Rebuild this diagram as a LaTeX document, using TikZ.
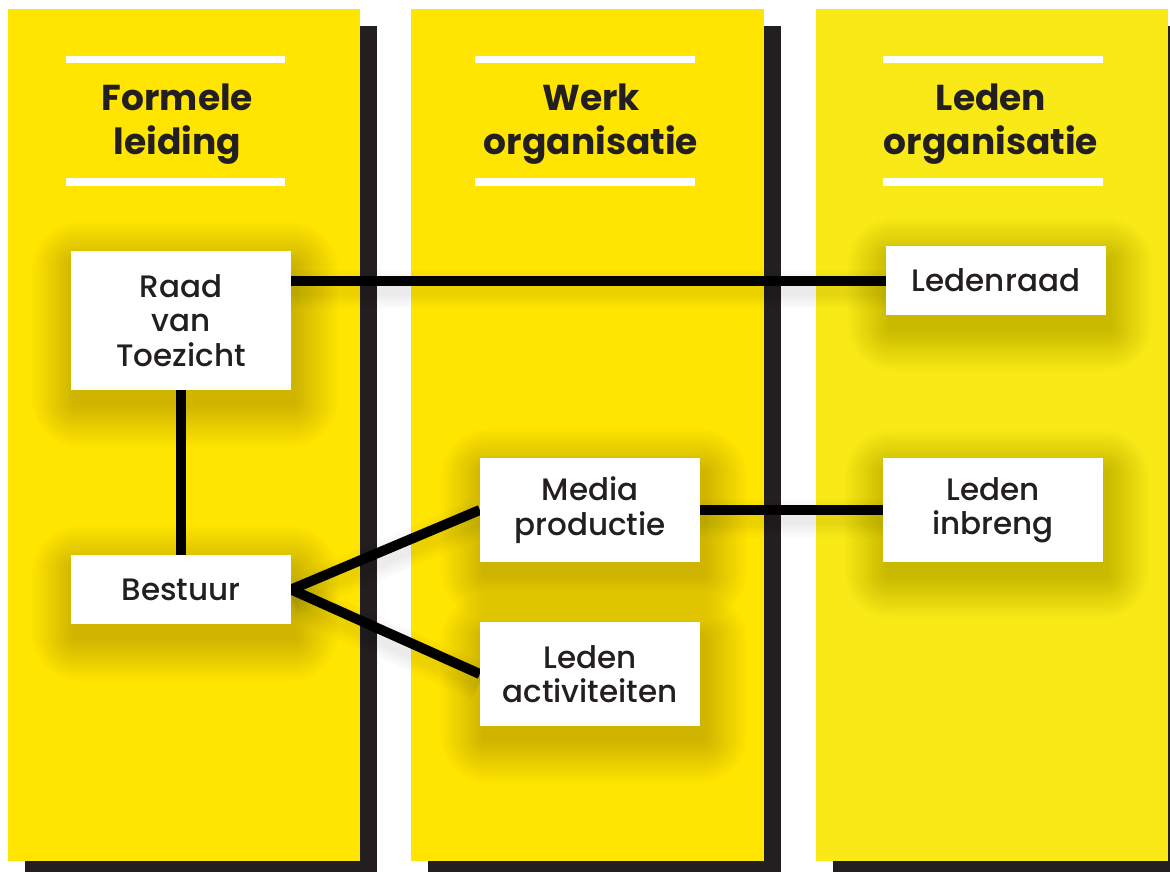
\documentclass[tikz,border=0pt]{standalone}
\usepackage{fontspec}
\setmainfont{Poppins}[UprightFont=* Medium, BoldFont=* Bold]
\usetikzlibrary{calc}
\definecolor{yel}{HTML}{FFE500}
\definecolor{yelc}{HTML}{F9EA17}
\definecolor{dark}{HTML}{231F20}
\pgfdeclarelayer{back}
\pgfdeclarelayer{shade}
\pgfdeclarelayer{lines}
\pgfsetlayers{back,shade,lines,main}
\newcommand\myshade[1]{%
  \begin{pgfonlayer}{shade}
  \foreach \k in {1,...,24}{%
    \fill[black,opacity=0.008,rounded corners=\k*2pt]
      ($(#1.north west)+(4-\k*1.8,14-\k*1.8)$) rectangle ($(#1.south east)+(4+\k*1.8,14+\k*1.8)$);}
  \end{pgfonlayer}}
\tikzset{
  col/.style={fill=yel},
  colshadow/.style={fill=dark},
  bar/.style={fill=white},
  title/.style={inner sep=0pt, align=center, text=dark, font=\bfseries\fontsize{36}{44}\selectfont},
  lbl/.style={fill=white, inner sep=0pt, minimum width=220pt, align=center, text=dark, font=\fontsize{31}{34.5}\selectfont},
  conn/.style={line width=10pt, black},
  connshade/.style={line width=#1, black, opacity=0.016}
}
\begin{document}
\begin{tikzpicture}[x=1pt,y=-1pt]
\useasboundingbox (0,0) rectangle (1170,871);
\clip (0,0) rectangle (1170,871);
\begin{pgfonlayer}{back}
\fill[white] (0,0) rectangle (1170,871);
% column shadows
\fill[colshadow] (25,26) rectangle (377,880);
\fill[colshadow] (428,26) rectangle (781,880);
\fill[colshadow] (833,26) rectangle (1185,880);
% columns
\fill[col] (8,9) rectangle (360,861);
\fill[col] (411,9) rectangle (764,861);
\fill[yelc] (816,9) rectangle (1168,861);
% bars
\fill[bar] (66,56) rectangle (285,63);
\fill[bar] (66,178) rectangle (285,186);
\fill[bar] (475,56) rectangle (695,63);
\fill[bar] (475,178) rectangle (695,186);
\fill[bar] (883,56) rectangle (1103,63);
\fill[bar] (883,178) rectangle (1103,186);
\end{pgfonlayer}
% titles
\node[title] (t1) at (177.5,124) {Formele\\leiding};
\node[title] (t2) at (591,124) {Werk\\organisatie};
\node[title] (t3) at (991,124) {Leden\\organisatie};
% boxes
\node[lbl, minimum height=139pt] (raad) at (181,320.5) {Raad\\van\\Toezicht};
\node[lbl, minimum height=69pt] (bestuur) at (181,589.5) {Bestuur};
\node[lbl, minimum height=104pt] (media) at (590,510) {Media\\productie};
\node[lbl, minimum height=104pt] (activ) at (590,674) {Leden\\activiteiten};
\node[lbl, minimum height=69pt] (ledenraad) at (996,280.5) {Ledenraad};
\node[lbl, minimum height=104pt] (inbreng) at (993,510) {Leden\\inbreng};
\myshade{raad}
\myshade{bestuur}
\myshade{media}
\myshade{activ}
\myshade{ledenraad}
\myshade{inbreng}
\begin{pgfonlayer}{lines}
\foreach \w in {14,20,26,32,38}{%
  \draw[connshade=\w pt] ($(raad.east |- ledenraad.west)+(0,8)$) -- ($(ledenraad.west)+(0,8)$);
  \draw[connshade=\w pt] ($(media.east)+(0,8)$) -- ($(inbreng.west)+(0,8)$);
  \draw[connshade=\w pt] ($(bestuur.east)+(0,8)$) -- ($(media.west)+(0,8)$);
  \draw[connshade=\w pt] ($(bestuur.east)+(0,8)$) -- ($(activ.west)+(0,8)$);
}
\draw[conn] (raad.east |- ledenraad.west) -- (ledenraad.west);
\draw[conn] (raad.south) -- (bestuur.north);
\draw[conn] (bestuur.east) -- (media.west);
\draw[conn] (bestuur.east) -- (activ.west);
\draw[conn] (media.east) -- (inbreng.west);
\end{pgfonlayer}
\end{tikzpicture}
\end{document}
